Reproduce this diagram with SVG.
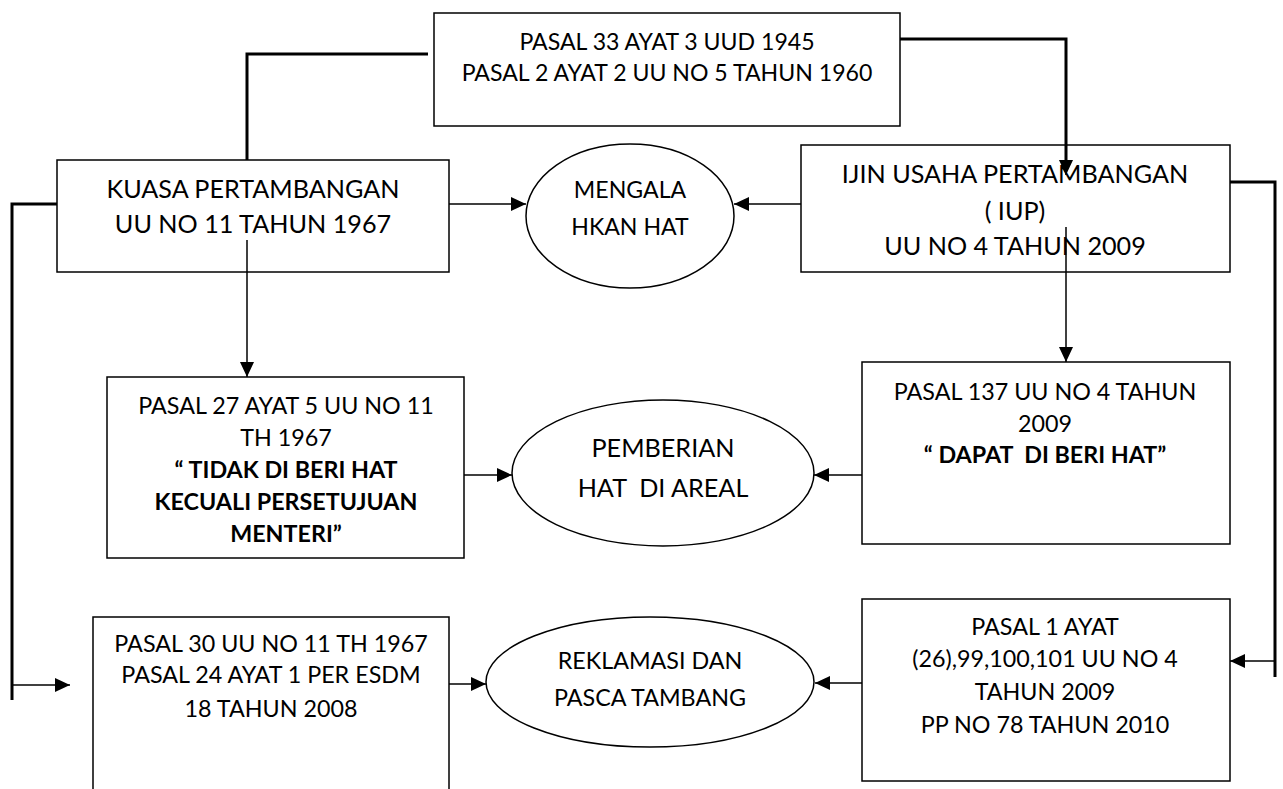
<svg xmlns="http://www.w3.org/2000/svg" width="1283" height="789" viewBox="0 0 1283 789">
<defs>
<marker id="ah" markerUnits="userSpaceOnUse" markerWidth="16" markerHeight="14" refX="15" refY="7" orient="auto">
<path d="M0,0 L15,7 L0,14 Z" fill="#000"/>
</marker>
<style>
.box{fill:#fff;stroke:#000;stroke-width:1.5}
.ell{fill:#fff;stroke:#000;stroke-width:1.5}
.t{font-family:Lato,"Liberation Sans",sans-serif;fill:#000;text-anchor:middle}
.s{font-size:23.3px}
.m{font-size:23.1px}
.l{font-size:25.2px}
.b{font-weight:bold}
.thin{fill:none;stroke:#000;stroke-width:1.5}
.thick{fill:none;stroke:#000;stroke-width:3}
</style>
</defs>
<rect width="1283" height="789" fill="#fff"/>
<g id="n-top">
<rect class="box" x="434" y="13" width="466" height="113"/>
<text class="t m" x="667" y="50">PASAL 33 AYAT 3 UUD 1945</text>
<text class="t m" x="667" y="81">PASAL 2 AYAT 2 UU NO 5 TAHUN 1960</text>
</g>
<g id="n-kuasa">
<rect class="box" x="57" y="160" width="392" height="112"/>
<text class="t l" x="253" y="198">KUASA PERTAMBANGAN</text>
<text class="t l" x="253" y="233">UU NO 11 TAHUN 1967</text>
</g>
<g id="n-iup">
<rect class="box" x="801" y="145" width="429" height="127"/>
<text class="t l" x="1015" y="183">IJIN USAHA PERTAMBANGAN</text>
<text class="t l" x="1015" y="220">( IUP)</text>
<text class="t l" x="1015" y="255">UU NO 4 TAHUN 2009</text>
</g>
<g id="n-mengala">
<ellipse class="ell" cx="630" cy="216" rx="104" ry="72"/>
<text class="t m" x="630" y="198">MENGALA</text>
<text class="t m" x="630" y="235">HKAN HAT</text>
</g>
<g id="n-pasal27">
<rect class="box" x="107" y="377" width="357" height="181"/>
<text class="t s" x="286" y="414">PASAL 27 AYAT 5 UU NO 11</text>
<text class="t s" x="286" y="446">TH 1967</text>
<text class="t s b" x="286" y="478">“ TIDAK DI BERI HAT</text>
<text class="t s b" x="286" y="510">KECUALI PERSETUJUAN</text>
<text class="t s b" x="286" y="542">MENTERI”</text>
</g>
<g id="n-pemberian">
<ellipse class="ell" cx="663" cy="473" rx="151" ry="73"/>
<text class="t l" x="663" y="457">PEMBERIAN</text>
<text class="t l" x="663" y="497" xml:space="preserve">HAT  DI AREAL</text>
</g>
<g id="n-pasal137">
<rect class="box" x="862" y="362" width="368" height="182"/>
<text class="t s" x="1045" y="400">PASAL 137 UU NO 4 TAHUN</text>
<text class="t s" x="1045" y="432">2009</text>
<text class="t s b" x="1045" y="463" xml:space="preserve">“ DAPAT  DI BERI HAT”</text>
</g>
<g id="n-pasal30">
<rect class="box" x="93" y="617" width="356" height="200"/>
<text class="t s" x="271" y="652">PASAL 30 UU NO 11 TH 1967</text>
<text class="t s" x="271" y="683">PASAL 24 AYAT 1 PER ESDM</text>
<text class="t s" x="271" y="717">18 TAHUN 2008</text>
</g>
<g id="n-reklamasi">
<ellipse class="ell" cx="650" cy="682" rx="164" ry="65"/>
<text class="t s" x="650" y="669">REKLAMASI DAN</text>
<text class="t s" x="650" y="706">PASCA TAMBANG</text>
</g>
<g id="n-pasal1">
<rect class="box" x="862" y="599" width="368" height="182"/>
<text class="t s" x="1045" y="635">PASAL 1 AYAT</text>
<text class="t s" x="1045" y="667">(26),99,100,101 UU NO 4</text>
<text class="t s" x="1045" y="700">TAHUN 2009</text>
<text class="t s" x="1045" y="733">PP NO 78 TAHUN 2010</text>
</g>
<g id="connectors">
<polyline class="thick" points="428,54 247,54 247,160"/>
<polyline class="thick" points="900,39 1066,39 1066,162"/>
<line class="thin" x1="1066" y1="160" x2="1066" y2="175" marker-end="url(#ah)"/>
<line class="thin" x1="247" y1="240" x2="247" y2="377" marker-end="url(#ah)"/>
<line class="thin" x1="1066" y1="227" x2="1066" y2="362" marker-end="url(#ah)"/>
<line class="thin" x1="449" y1="204" x2="526" y2="204" marker-end="url(#ah)"/>
<line class="thin" x1="801" y1="204" x2="734" y2="204" marker-end="url(#ah)"/>
<line class="thin" x1="464" y1="475" x2="512" y2="475" marker-end="url(#ah)"/>
<line class="thin" x1="862" y1="475" x2="814" y2="475" marker-end="url(#ah)"/>
<line class="thin" x1="449" y1="684" x2="486" y2="684" marker-end="url(#ah)"/>
<line class="thin" x1="862" y1="683" x2="815" y2="683" marker-end="url(#ah)"/>
<polyline class="thick" points="57,204 12,204 12,700"/>
<line class="thin" x1="12" y1="685" x2="70" y2="685" marker-end="url(#ah)"/>
<polyline class="thick" points="1230,182 1275,182 1275,677"/>
<line class="thin" x1="1275" y1="661" x2="1230" y2="661" marker-end="url(#ah)"/>
</g>
</svg>
